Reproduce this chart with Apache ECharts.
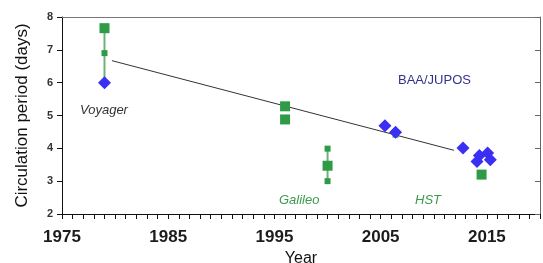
<!DOCTYPE html>
<html>
<head>
    <meta charset="utf-8">
    <title>Circulation period</title>
    <script type="text/javascript" src="https://cdn.jsdelivr.net/npm/echarts@6/dist/echarts.min.js"></script>
</head>
<body style="margin:0;background:#fff;">
    <div id="main" style="width:543px;height:263px;"></div>
    <script type="text/javascript">
        // data: [year, days]
        var greenBig = [[1979, 7.66], [1996, 5.28], [1996, 4.88], [2000, 3.47], [2014.5, 3.2]];
        var greenSmall = [[1979, 6.9], [2000, 3.99], [2000, 3.0], [2006.4, 4.42]];
        var blueDiamonds = [[1979, 6.0], [2005.4, 4.69], [2006.4, 4.49], [2012.75, 4.01],
                            [2014.07, 3.6], [2014.3, 3.78], [2015.07, 3.86], [2015.32, 3.65]];
        var errVoyager = [[1979, 7.66], [1979, 6.0]];
        var errGalileo = [[2000, 3.99], [2000, 3.0]];
        var trend = [[1979.7, 6.67], [2011.9, 3.94]];
        var yearLabels = [1975, 1985, 1995, 2005, 2015];

        var green = '#2f9b47';
        var blue = '#3a2ff2';

        var chart = echarts.init(document.getElementById('main'));

        var option = {
            animation: false,
            grid: { left: 62, right: 3, top: 17, bottom: 49, outerBoundsMode: 'none' },
            xAxis: [
                {
                    type: 'value', position: 'bottom',
                    min: 1975, max: 2020, interval: 1,
                    axisLine: { lineStyle: { color: '#111', width: 1 } },
                    axisTick: { length: 5, lineStyle: { color: '#111' } },
                    splitLine: { show: false },
                    axisLabel: {
                        margin: 15, fontSize: 17, fontWeight: 'bold', color: '#1c1c1c',
                        fontFamily: 'Liberation Sans',
                        formatter: function (v) {
                            return yearLabels.indexOf(v) >= 0 ? String(v) : '';
                        }
                    },
                    name: 'Year', nameLocation: 'middle', nameGap: 34,
                    nameTextStyle: { fontSize: 16, color: '#111', fontFamily: 'Liberation Sans' }
                },
                {
                    type: 'value', position: 'top',
                    min: 1975, max: 2020,
                    axisLine: { lineStyle: { color: '#777', width: 1 } },
                    axisTick: { show: false }, axisLabel: { show: false },
                    splitLine: { show: false }
                }
            ],
            yAxis: [
                {
                    type: 'value', position: 'left',
                    min: 2, max: 8, interval: 1,
                    axisLine: { show: true, lineStyle: { color: '#111', width: 1 } },
                    axisTick: { show: true, length: 5, lineStyle: { color: '#111' } },
                    splitLine: { show: false },
                    axisLabel: { margin: 9, fontSize: 11, fontWeight: 'bold', color: '#333', fontFamily: 'Liberation Sans' },
                    name: 'Circulation period (days)', nameLocation: 'middle', nameGap: 31,
                    nameTextStyle: { fontSize: 17, color: '#111', fontFamily: 'Liberation Sans' }
                },
                {
                    type: 'value', position: 'right',
                    min: 2, max: 8, interval: 1,
                    axisLine: { show: true, lineStyle: { color: '#666', width: 1 } },
                    axisTick: { show: true, inside: true, length: 5, lineStyle: { color: '#666' } },
                    axisLabel: { show: false },
                    splitLine: { show: false }
                }
            ],
            series: [
                {
                    type: 'line', data: trend, symbol: 'none', z: 1,
                    lineStyle: { color: '#333', width: 1 }
                },
                {
                    type: 'line', data: errVoyager, symbol: 'none', z: 2,
                    lineStyle: { color: '#6db27a', width: 2 }
                },
                {
                    type: 'line', data: errGalileo, symbol: 'none', z: 2,
                    lineStyle: { color: '#6db27a', width: 2 }
                },
                {
                    type: 'scatter', data: greenSmall, symbol: 'rect', symbolSize: 6, z: 3,
                    itemStyle: { color: green, opacity: 1 }
                },
                {
                    type: 'scatter', data: greenBig, symbol: 'rect', symbolSize: 10, z: 4,
                    itemStyle: { color: green, opacity: 1 }
                },
                {
                    type: 'scatter', data: blueDiamonds, symbol: 'diamond', symbolSize: 13, z: 5,
                    itemStyle: { color: blue, opacity: 1 }
                }
            ],
            graphic: [
                { type: 'text', left: 80, top: 104, style: { text: 'Voyager', fontSize: 13, fontStyle: 'italic', fill: '#333', fontFamily: 'Liberation Sans' } },
                { type: 'text', left: 279, top: 194, style: { text: 'Galileo', fontSize: 13, fontStyle: 'italic', fill: '#3d9a4c', fontFamily: 'Liberation Sans' } },
                { type: 'text', left: 415, top: 194, style: { text: 'HST', fontSize: 13, fontStyle: 'italic', fill: '#3d9a4c', fontFamily: 'Liberation Sans' } },
                { type: 'text', left: 398, top: 74, style: { text: 'BAA/JUPOS', fontSize: 13, fill: '#33338c', fontFamily: 'Liberation Sans' } }
            ]
        };

        chart.setOption(option);
    </script>
</body>
</html>
